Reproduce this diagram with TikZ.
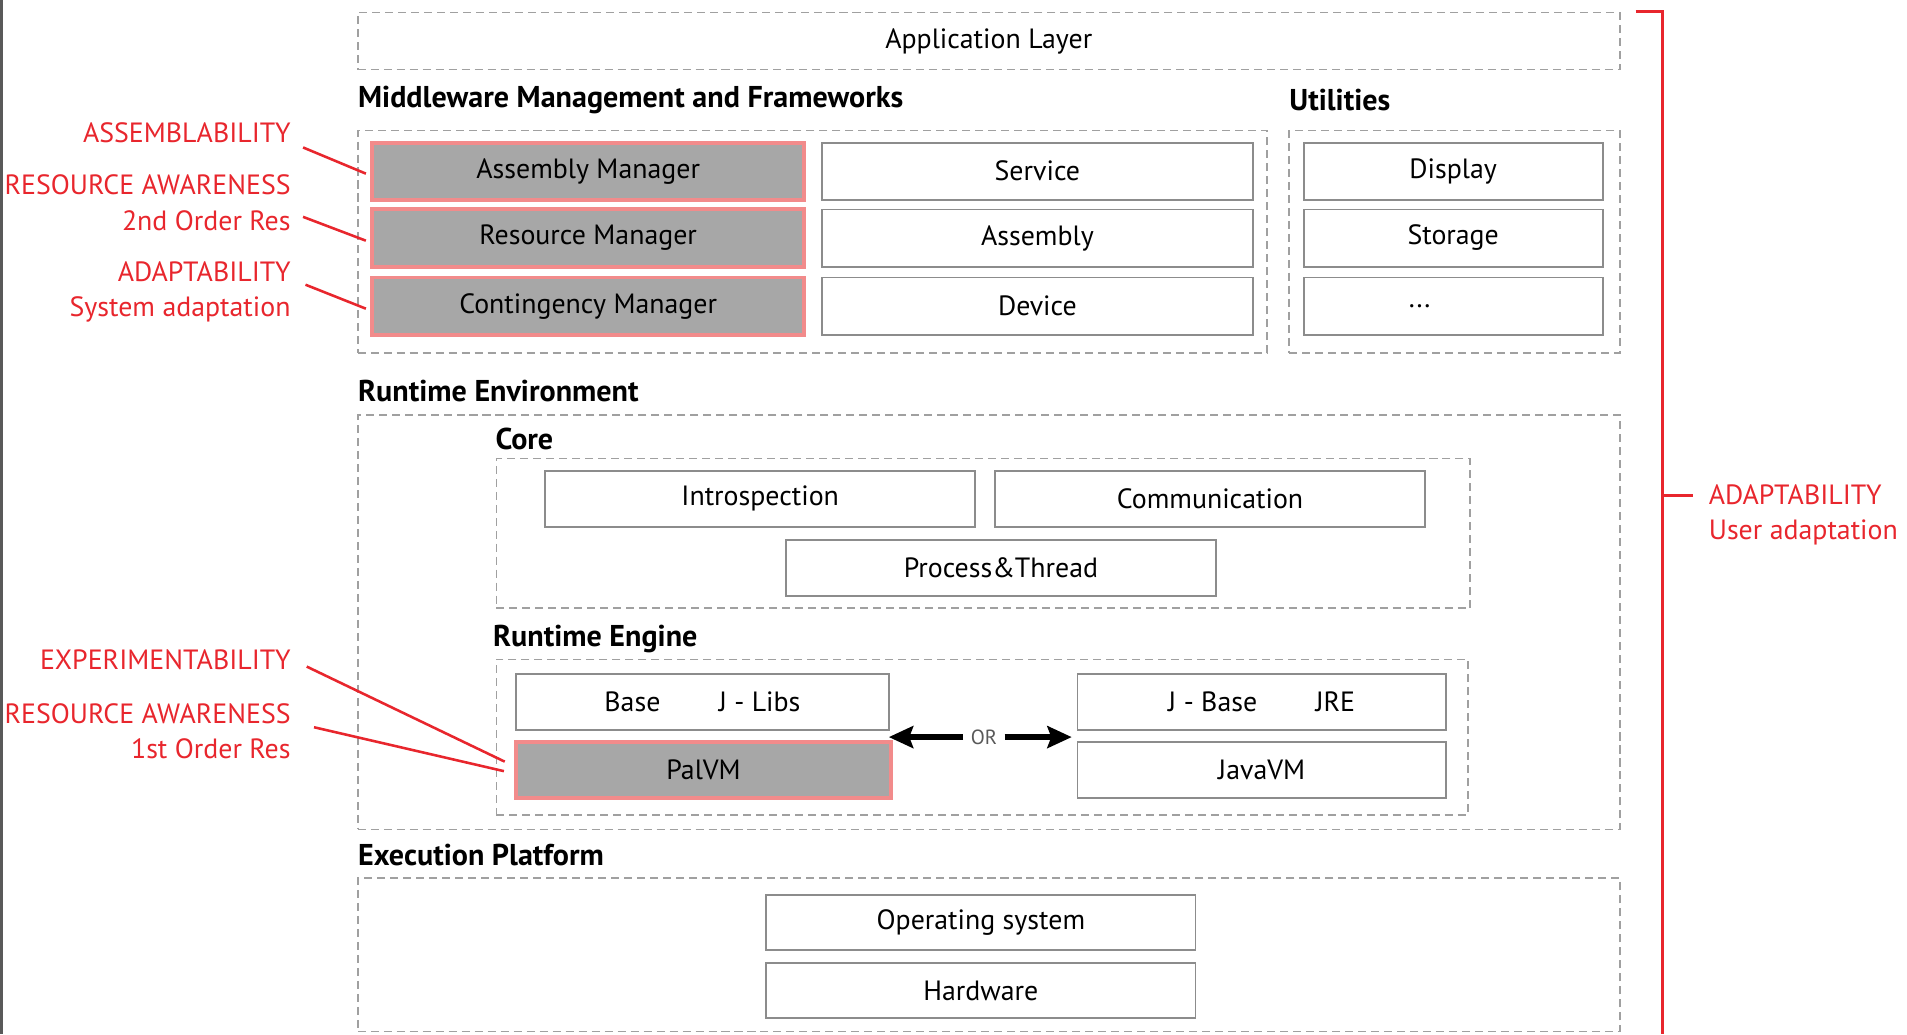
\documentclass[tikz,border=0pt]{standalone}
\usepackage{fontspec}
\setmainfont{PT Sans}
\usetikzlibrary{arrows.meta}
\definecolor{tagred}{HTML}{E8262D}
\definecolor{mgrfill}{HTML}{A7A7A7}
\definecolor{mgredge}{HTML}{F28B8B}
\definecolor{boxedge}{HTML}{8C8C8C}
\definecolor{groupedge}{HTML}{A0A0A0}

\begin{document}
\begin{tikzpicture}[>={Stealth[length=0.5cm,width=0.45cm,inset=0.08cm]},
	every node/.style={font=\fontsize{16.3}{20.5}\selectfont},
	group/.style={draw=groupedge,dash pattern=on 4.7pt off 2.9pt,line width=0.9pt,inner sep=0pt},
	box/.style={draw=boxedge,line width=1.1pt,fill=white,inner sep=0pt},
	mgrbox/.style={draw=mgredge,line width=2.3pt,fill=mgrfill,inner sep=0pt},
	title/.style={font=\fontsize{17.6}{20}\selectfont\bfseries,anchor=west,inner sep=0pt},
	tag/.style={text=tagred,anchor=east,align=right,inner sep=0pt},
	tagline/.style={draw=tagred,line width=1.5pt}]
		%
		\draw [use as bounding box,color=white] (0,0) rectangle (39.2,21.25);
		\draw [line width=1.6pt,black!65] (0.03,0) -- (0.03,21.25);
		%
		\node[group,minimum width=25.95cm,minimum height=1.175cm] (appLayer) at (20.325,20.4125) {Application Layer};
		%
		\node[title] (mwTitle) at (7.35,19.2) {Middleware Management and Frameworks};
		\node[title] (utilTitle) at (26.5,19.2) {Utilities};
		\node[group,minimum width=18.7cm,minimum height=4.575cm] (mwGroup) at (16.7,16.2875) {};
		\node[group,minimum width=6.8cm,minimum height=4.575cm] (utilGroup) at (29.9,16.2875) {};
		%
		\node[mgrbox,minimum width=8.875cm,minimum height=1.175cm] (asmMgr) at (12.0875,17.7375) {Assembly Manager};
		\node[mgrbox,minimum width=8.875cm,minimum height=1.175cm] (resMgr) at (12.0875,16.3625) {Resource Manager};
		\node[mgrbox,minimum width=8.875cm,minimum height=1.175cm] (conMgr) at (12.0875,14.9625) {Contingency Manager};
		\node[box,minimum width=8.85cm,minimum height=1.175cm] (srv) at (21.325,17.7375) {Service};
		\node[box,minimum width=8.85cm,minimum height=1.175cm] (asm) at (21.325,16.3625) {Assembly};
		\node[box,minimum width=8.85cm,minimum height=1.175cm] (dev) at (21.325,14.9625) {Device};
		\node[box,minimum width=6.15cm,minimum height=1.175cm] (disp) at (29.875,17.7375) {Display};
		\node[box,minimum width=6.15cm,minimum height=1.175cm] (stor) at (29.875,16.3625) {Storage};
		\node[box,minimum width=6.15cm,minimum height=1.175cm] (more) at (29.875,14.9625) {};
		\node[anchor=west,inner sep=0pt] (moreTxt) at ([xshift=2.175cm]more.west) {...};
		%
		\node[title] (rtTitle) at (7.35,13.225) {Runtime Environment};
		\node[group,minimum width=25.95cm,minimum height=8.525cm] (rtGroup) at (20.325,8.4625) {};
		\node[title] (coreTitle) at (10.175,12.225) {Core};
		\node[group,minimum width=20.025cm,minimum height=3.075cm] (coreGroup) at (20.2125,10.2875) {};
		\node[box,minimum width=8.85cm,minimum height=1.15cm] (intro) at (15.625,11.0) {Introspection};
		\node[box,minimum width=8.85cm,minimum height=1.15cm] (comm) at (24.875,11.0) {Communication};
		\node[box,minimum width=8.85cm,minimum height=1.15cm] (proc) at (20.575,9.575) {Process\&Thread};
		%
		\node[title] (engTitle) at (10.125,8.125) {Runtime Engine};
		\node[group,minimum width=19.975cm,minimum height=3.2cm] (engGroup) at (20.1875,6.1) {};
		\node[box,minimum width=7.675cm,minimum height=1.15cm] (baseLibs) at (14.4375,6.825) {Base\hspace{1.2cm}J - Libs};
		\node[mgrbox,minimum width=7.7cm,minimum height=1.15cm] (palVM) at (14.46,5.425) {PalVM};
		\node[box,minimum width=7.575cm,minimum height=1.15cm] (jBase) at (25.9375,6.825) {J - Base\hspace{1.2cm}JRE};
		\node[box,minimum width=7.575cm,minimum height=1.15cm] (javaVM) at (25.9375,5.425) {JavaVM};
		\node[font=\fontsize{12}{14}\selectfont,text=black!65,inner xsep=0.15cm] (orLbl) at (20.225,6.1) {OR};
		\draw [->,line width=3.5pt,shorten >=-0.08cm] (orLbl) -- (palVM.east |- orLbl);
		\draw [->,line width=3.5pt,shorten >=0.1cm] (orLbl) -- (javaVM.west |- orLbl);
		%
		\node[title] (execTitle) at (7.35,3.675) {Execution Platform};
		\node[group,minimum width=25.95cm,minimum height=3.15cm] (execGroup) at (20.325,1.625) {};
		\node[box,minimum width=8.825cm,minimum height=1.125cm] (os) at (20.1625,2.2875) {Operating system};
		\node[box,minimum width=8.825cm,minimum height=1.125cm] (hw) at (20.1625,0.8875) {Hardware};
		%
		\coordinate (brTop) at (33.625,21.025);
		\coordinate (brBot) at (34.175,0);
		\coordinate (brMid) at (34.175,11.075);
		\draw [tagline,line width=1.8pt] (brTop) -| (brBot);
		\draw [tagline,line width=1.8pt] (brMid) -- ++(0.625,0);
		\node[tag,anchor=north west,align=left] (usrTag) at (35.125,11.29) {ADAPTABILITY\\User adaptation};
		%
		\node[tag] (asmTag) at (5.975,18.525) {ASSEMBLABILITY};
		\node[tag] (res2Tag) at (5.975,17.0875) {RESOURCE AWARENESS\\2nd Order Res};
		\node[tag] (adpTag) at (5.975,15.2625) {ADAPTABILITY\\System adaptation};
		\node[tag] (expTag) at (5.975,7.7) {EXPERIMENTABILITY};
		\node[tag] (res1Tag) at (5.975,6.2125) {RESOURCE AWARENESS\\1st Order Res};
		\draw [tagline,shorten >=0.1cm] ([shift={(0.25,-0.3)}]asmTag.east) -- ([yshift=-0.09cm]asmMgr.west);
		\draw [tagline,shorten >=0.1cm] ([shift={(0.25,-0.29)}]res2Tag.east) -- ([yshift=-0.09cm]resMgr.west);
		\draw [tagline,shorten >=0.1cm] ([shift={(0.3,0.14)}]adpTag.east) -- ([yshift=-0.09cm]conMgr.west);
		\draw [tagline,shorten >=0.22cm] ([shift={(0.325,-0.15)}]expTag.east) -- ([yshift=0.075cm]palVM.west);
		\draw [tagline,shorten >=0.22cm] ([shift={(0.475,0.09)}]res1Tag.east) -- ([yshift=-0.075cm]palVM.west);
		%
	\end{tikzpicture}
\end{document}
